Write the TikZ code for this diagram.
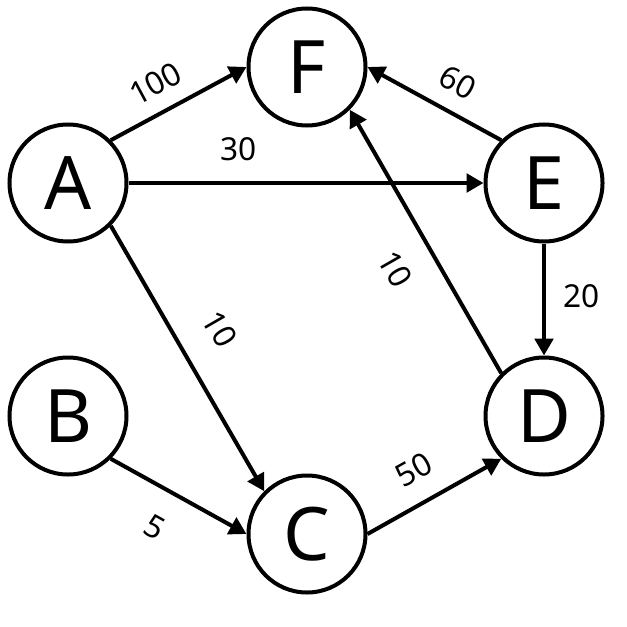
\documentclass[tikz,border=0pt]{standalone}
\usepackage{fontspec}
\setmainfont{Noto Sans}
\usetikzlibrary{arrows.meta}

\begin{document}
\begin{tikzpicture}[
    sommet/.style={circle, draw, line width=0.08cm, minimum size=2.34cm,
        inner sep=0pt, font=\fontsize{42}{48}\selectfont},
    arc/.style={line width=0.08cm, -{Triangle[length=0.34cm,width=0.37cm]}},
    poids/.style={font=\fontsize{18}{20}\selectfont, inner sep=1pt}
]

% Cadre
\useasboundingbox (0,0) rectangle (12.54,12.52);

% Sommets
\foreach \n/\x/\y in {A/1.36/8.86, B/1.36/4.2, C/6.14/1.84,
                      D/10.88/4.2, E/10.88/8.86, F/6.14/11.18}
{
    \node[sommet] (\n) at (\x,\y) {\n};
}

% Arcs depuis A
\draw[arc]
(A.north east)
-- node[poids, sloped, above=7.5pt, pos=0.43] {100}
(F.west);

\draw[arc]
(A.east)
-- node[poids, above=10.3pt, pos=0.31] {30}
(E.west);

\draw[arc]
(A.south east)
-- node[poids, sloped, above=15.5pt, pos=0.47] {10}
(C.north west);

% Arcs vers C et D
\draw[arc]
(B.south east)
-- node[poids, sloped, below=13.5pt, pos=0.46] {5}
(C.west);

\draw[arc]
(C.east)
-- node[poids, sloped, above=10pt, pos=0.47] {50}
(D.south west);

\draw[arc]
(E.south)
-- node[poids, right=9pt, pos=0.47] {20}
(D.north);

% Arcs vers F
\draw[arc]
(D.north west)
-- node[poids, sloped, below=14pt, pos=0.47] {10}
(F.south east);

\draw[arc]
(E.north west)
-- node[poids, sloped, above=8.2pt, pos=0.43] {60}
(F.east);

\end{tikzpicture}
\end{document}
